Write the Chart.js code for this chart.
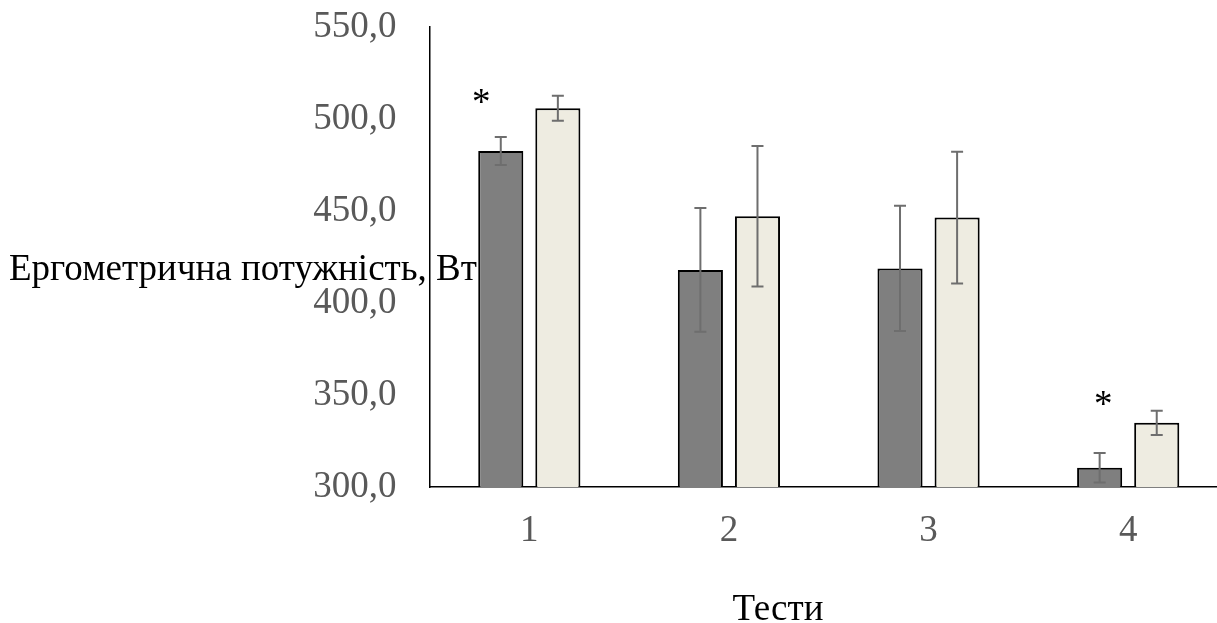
<!DOCTYPE html>
<html>
<head>
<meta charset="utf-8">
<script src="https://cdn.jsdelivr.net/npm/chart.js@4"></script>
<style>
    html, body { margin: 0; padding: 0; background: #fff; overflow: hidden; }
    canvas { display: block; }
</style>
</head>
<body>
<canvas id="barChart" width="1228" height="623"></canvas>
<script>
// дані
const tests = ['1', '2', '3', '4'];
const groupA = [482.6, 418.0, 418.8, 310.5];
const groupAErr = [7.6, 33.6, 34.0, 8.0];
const groupB = [505.9, 447.1, 446.4, 334.9];
const groupBErr = [6.8, 38.2, 35.8, 6.6];
const starIndex = [0, 3];
const starValue = [512.6, 348.3];
const yTicks = [300, 350, 400, 450, 500, 550];

const serif = "'Liberation Serif', 'Times New Roman', serif";

document.addEventListener('DOMContentLoaded', function () {
    const ctx = document.getElementById('barChart').getContext('2d');

    // планки похибок
    const errorBarsPlugin = {
        id: 'errorBars',
        afterDatasetsDraw(chart) {
            const c = chart.ctx;
            const y = chart.scales.y;
            const errs = [groupAErr, groupBErr];
            c.save();
            c.strokeStyle = '#6e6e6e';
            c.lineWidth = 2;
            chart.data.datasets.forEach((ds, di) => {
                const meta = chart.getDatasetMeta(di);
                meta.data.forEach((bar, i) => {
                    const v = ds.data[i];
                    const top = y.getPixelForValue(v + errs[di][i]);
                    const bot = y.getPixelForValue(v - errs[di][i]);
                    c.beginPath();
                    c.moveTo(bar.x, top);
                    c.lineTo(bar.x, bot);
                    c.moveTo(bar.x - 6, top);
                    c.lineTo(bar.x + 6, top);
                    c.moveTo(bar.x - 6, bot);
                    c.lineTo(bar.x + 6, bot);
                    c.stroke();
                });
            });
            c.restore();
        }
    };

    // зірочки та підписи осей
    const labelsPlugin = {
        id: 'labels',
        afterDraw(chart) {
            const c = chart.ctx;
            const x = chart.scales.x;
            const y = chart.scales.y;
            const shifts = [-48, -25];
            c.save();
            c.fillStyle = '#000';
            c.textAlign = 'center';
            c.textBaseline = 'middle';
            c.font = '37px ' + serif;
            starIndex.forEach((idx, k) => {
                c.fillText('*', x.getPixelForValue(idx) + shifts[k], y.getPixelForValue(starValue[k]) + 8);
            });

            c.font = '37px ' + serif;
            c.textAlign = 'left';
            c.textBaseline = 'alphabetic';
            c.fillText('Ергометрична потужність, Вт', 9, 280);

            c.textAlign = 'center';
            c.fillText('Тести', 778, 620);
            c.restore();
        }
    };

    new Chart(ctx, {
        type: 'bar',
        data: {
            labels: tests,
            datasets: [
                {
                    label: 'A',
                    data: groupA,
                    backgroundColor: '#7f7f7f',
                    borderColor: '#000',
                    borderWidth: 2,
                    borderSkipped: false,
                    categoryPercentage: 0.572,
                    barPercentage: 0.79
                },
                {
                    label: 'B',
                    data: groupB,
                    backgroundColor: '#eeece1',
                    borderColor: '#000',
                    borderWidth: 2,
                    borderSkipped: false,
                    categoryPercentage: 0.572,
                    barPercentage: 0.79
                }
            ]
        },
        options: {
            responsive: false,
            animation: false,
            layout: { padding: { top: 27, right: 0, left: 0, bottom: 0 } },
            plugins: {
                legend: { display: false },
                tooltip: { enabled: false }
            },
            scales: {
                x: {
                    grid: { display: false },
                    border: { display: true, color: '#000', width: 1.5 },
                    ticks: {
                        color: '#595959',
                        font: { size: 37, family: serif },
                        padding: 14
                    },
                    afterFit(scale) {
                        scale.height = 136;
                        scale.paddingLeft = 0;
                        scale.paddingRight = 0;
                    }
                },
                y: {
                    min: 300,
                    max: 550,
                    grid: { display: false },
                    border: { display: true, color: '#000', width: 1.5 },
                    afterBuildTicks(scale) {
                        scale.ticks = yTicks.map(v => ({ value: v }));
                    },
                    ticks: {
                        color: '#595959',
                        font: { size: 37, family: serif },
                        padding: 25,
                        callback: v => v.toFixed(1).replace('.', ',')
                    },
                    afterFit(scale) {
                        scale.width = 429.5;
                        scale.paddingTop = 0;
                        scale.paddingBottom = 0;
                    }
                }
            }
        },
        plugins: [errorBarsPlugin, labelsPlugin]
    });
});
</script>
</body>
</html>
